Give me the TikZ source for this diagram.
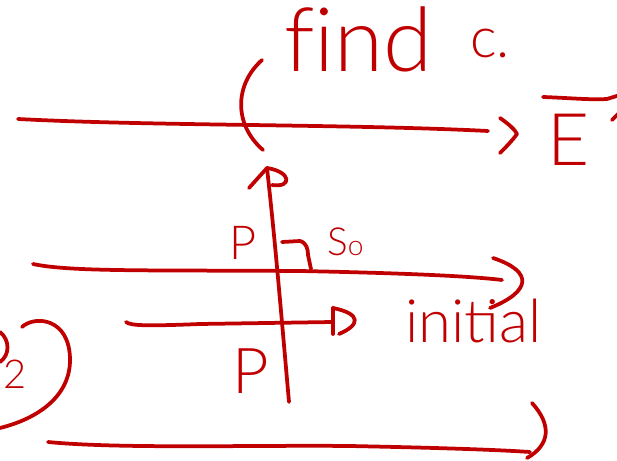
\documentclass[tikz,border=0pt]{standalone}
\usepackage{fontspec}
\setmainfont{Lato}[UprightFont=* Light]
\definecolor{inkc}{HTML}{C00000}
\begin{document}
\begin{tikzpicture}[x=0.03cm,y=-0.03cm,
  ink/.style={draw=inkc, line width=3.2pt, line cap=round, line join=round},
  lbl/.style={text=inkc, inner sep=0pt, anchor=base west}]
\useasboundingbox (0,0) rectangle (617,461);
% labels
\node[lbl, font=\fontsize{76}{80}\selectfont] (find) at (284,72) {f\kern0pt ind};
\node[lbl, font=\fontsize{48}{50}\selectfont] (c) at (470,58) {c.};
\node[lbl, font=\fontsize{62}{64}\selectfont] (E) at (547,166) {E};
\node[lbl, font=\fontsize{40}{44}\selectfont] (P1) at (229,260) {P};
\node[lbl, font=\fontsize{54}{58}\selectfont] (P2) at (232,394) {P};
\node[lbl, font=\fontsize{33}{36}\selectfont] (S) at (327,256) {S{\fontsize{24}{26}\selectfont o}};
\node[lbl, font=\fontsize{51}{54}\selectfont] (init) at (405,343) {initial};
\node[lbl, font=\fontsize{34}{36}\selectfont] (two) at (3,389) {2};
% coordinates
\coordinate (t1) at (18,119); \coordinate (t2) at (488,131);
\coordinate (m1) at (33,264); \coordinate (m2) at (502,280);
\coordinate (s1) at (126,322); \coordinate (s2) at (333,322);
\coordinate (b1) at (48,442); \coordinate (b2) at (530,452);
\coordinate (v1) at (289,402); \coordinate (v2) at (267,168);
% top arrow
\draw[ink] (t1) .. controls (150,126) and (350,124) .. (t2);
\draw[ink] (500,118) .. controls (510,125) and (515,130) .. (517,134) .. controls (512,141) and (505,148) .. (500,153);
% bracket around top
\draw[ink] (262,60) .. controls (234,85) and (234,125) .. (263,150);
% vector bar over E
\draw[ink] (543,97) .. controls (570,98) and (590,100) .. (607,99) -- (620,95);
\draw[ink] (612,120) -- (620,112);
% second line
\draw[ink] (m1) .. controls (70,272) and (150,270) .. (300,271) .. controls (400,273) and (470,276) .. (m2);
\draw[ink] (493,258) .. controls (535,272) and (530,292) .. (490,308);
% short line with D head
\draw[ink] (s1) .. controls (130,326) and (150,326) .. (200,324) -- (s2);
\draw[ink] (333,308) -- (333,334);
\draw[ink] (333,308) .. controls (362,314) and (360,325) .. (339,334);
% vertical line
\draw[ink] (v1) .. controls (280,300) and (275,240) .. (v2);
\draw[ink] (249,188) -- (v2);
\draw[ink] (v2) .. controls (292,172) and (292,188) .. (272,185);
% right angle mark
\draw[ink] (282,242) -- (300,241) .. controls (307,243) and (308,250) .. (308,255) -- (311,269);
% bottom line
\draw[ink] (b1) .. controls (120,449) and (250,445) .. (350,446) .. controls (450,448) and (500,450) .. (b2);
\draw[ink] (532,403) .. controls (552,425) and (550,445) .. (527,458);
% left bracket and cut letter
\draw[ink] (22,327) .. controls (35,315) and (70,318) .. (70,360) .. controls (70,395) and (40,418) .. (0,428);
\draw[ink] (0,332) .. controls (10,340) and (10,355) .. (0,362);
\end{tikzpicture}
\end{document}
